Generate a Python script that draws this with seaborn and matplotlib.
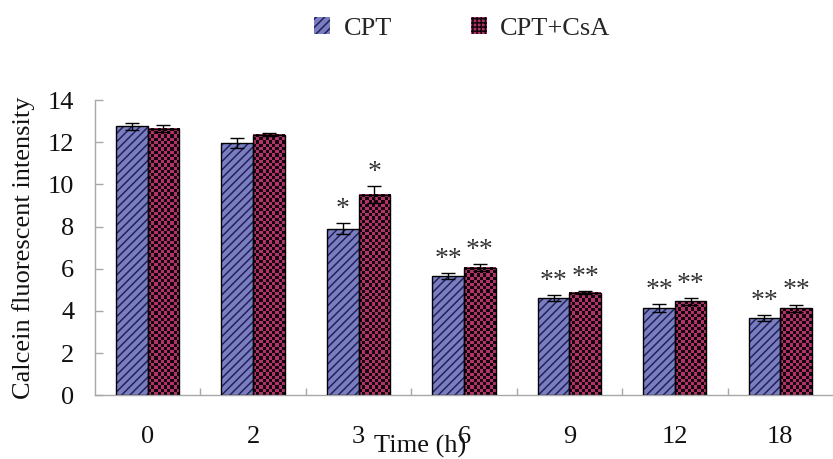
import numpy as np
import pandas as pd
import matplotlib
matplotlib.use("Agg")
import matplotlib.pyplot as plt
from matplotlib.patches import Patch, Rectangle
from matplotlib.colors import ListedColormap
import seaborn as sns

# ------------------------------
# data
# ------------------------------
times = ["0", "2", "3", "6", "9", "12", "18"]
groups = ["CPT", "CPT+CsA"]
cpt_mean = [12.75, 11.95, 7.9, 5.65, 4.6, 4.15, 3.65]
cpt_err = [0.15, 0.24, 0.25, 0.15, 0.15, 0.18, 0.15]
csa_mean = [12.65, 12.35, 9.5, 6.05, 4.85, 4.45, 4.12]
csa_err = [0.15, 0.07, 0.4, 0.15, 0.07, 0.15, 0.18]
cpt_sig = ["", "", "*", "**", "**", "**", "**"]
csa_sig = ["", "", "*", "**", "**", "**", "**"]

df = pd.DataFrame({
    "time": times * 2,
    "group": [groups[0]] * len(times) + [groups[1]] * len(times),
    "value": cpt_mean + csa_mean,
})

fills = ["#7a7ec0", "#b0346a"]
dark = ["#22225a", "#14060c"]

sns.set_theme(style="white")
plt.rcParams["font.family"] = ["Liberation Serif", "DejaVu Serif"]
plt.rcParams["hatch.linewidth"] = 1.1

fig = plt.figure(figsize=(8.33, 4.59), dpi=100)
ax = fig.add_axes([0.114, 0.139, 0.886, 0.643])

sns.barplot(data=df, x="time", y="value", hue="group", order=times,
            hue_order=groups, palette=fills, saturation=1, width=0.6,
            gap=0, errorbar=None, legend=False, ax=ax)

ax.set_ylim(0, 14)
ax.set_xlim(-0.5, len(times) - 0.5)

# CPT bars: diagonal stripes
for bar in ax.containers[0]:
    bar.set_hatch("////")
    bar.set_edgecolor(dark[0])
    bar.set_linewidth(0)

# CPT+CsA bars: small checkerboard drawn as an image inside each bar
checker_cmap = ListedColormap([fills[1], dark[1]])
cell = 3.2  # pixels per checker square
for bar in ax.containers[1]:
    x0, y0 = bar.get_xy()
    x1, y1 = x0 + bar.get_width(), y0 + bar.get_height()
    (px0, py0), (px1, py1) = ax.transData.transform([(x0, y0), (x1, y1)])
    nx = max(1, int(round((px1 - px0) / cell)))
    ny = max(1, int(round((py1 - py0) / cell)))
    board = np.indices((ny, nx)).sum(axis=0) % 2
    ax.imshow(board, cmap=checker_cmap, extent=(x0, x1, y0, y1), origin="lower",
              aspect="auto", interpolation="nearest", zorder=2)
    bar.set_visible(False)

for cont in ax.containers:
    for bar in cont:
        ax.add_patch(Rectangle(bar.get_xy(), bar.get_width(), bar.get_height(),
                               fill=False, ec="black", lw=1, zorder=3))

for cont, means, errs, sig in zip(ax.containers, [cpt_mean, csa_mean],
                                  [cpt_err, csa_err], [cpt_sig, csa_sig]):
    xs = [b.get_x() + b.get_width() / 2 for b in cont]
    ax.errorbar(xs, means, yerr=errs, fmt="none", ecolor="black",
                elinewidth=1, capsize=5, capthick=1, zorder=4)
    for x, m, e, s in zip(xs, means, errs, sig):
        if s:
            ax.annotate(s, (x, m + e), xytext=(0, 1), textcoords="offset points",
                        ha="center", va="bottom", fontsize=20, color="#333333")

ax.set_ylim(0, 14)
ax.set_xlim(-0.5, len(times) - 0.5)
ax.set_yticks(np.arange(0, 15, 2))
ax.set_xticks(range(len(times)))
ax.set_xticklabels(times)
ax.set_xticks(np.arange(0.5, len(times) - 0.5, 1), minor=True)

for side in ["top", "right"]:
    ax.spines[side].set_visible(False)
for side in ["left", "bottom"]:
    ax.spines[side].set_color("#a8a8a8")
    ax.spines[side].set_linewidth(1)

ax.tick_params(axis="y", direction="in", length=6, width=1, color="#a8a8a8",
               left=True, labelsize=19, pad=15)
ax.tick_params(axis="x", which="major", length=0, labelsize=19, pad=22)
ax.tick_params(axis="x", which="minor", direction="in", length=5, width=1,
               color="#a8a8a8", bottom=True)
for lab in ax.get_xticklabels() + ax.get_yticklabels():
    lab.set_color("#111111")

ax.set_xlabel("Time (h)", fontsize=19, color="#111111")
ax.xaxis.set_label_coords(0.441, -0.133)
ax.set_ylabel("Calcein fluorescent intensity", fontsize=19, color="#111111")
ax.yaxis.set_label_coords(-0.081, 0.5)

handles = [Patch(facecolor=fills[0], edgecolor=dark[0], hatch="////", lw=0),
           Patch(facecolor=fills[1], edgecolor=dark[1], hatch="++++", lw=0)]
fig.legend(handles, groups, loc="upper center", bbox_to_anchor=(0.555, 1.015),
           ncol=2, frameon=False, fontsize=19, handlelength=0.6,
           handleheight=0.6, handletextpad=0.5, columnspacing=3.0)

fig.savefig("out.png", dpi=100)
